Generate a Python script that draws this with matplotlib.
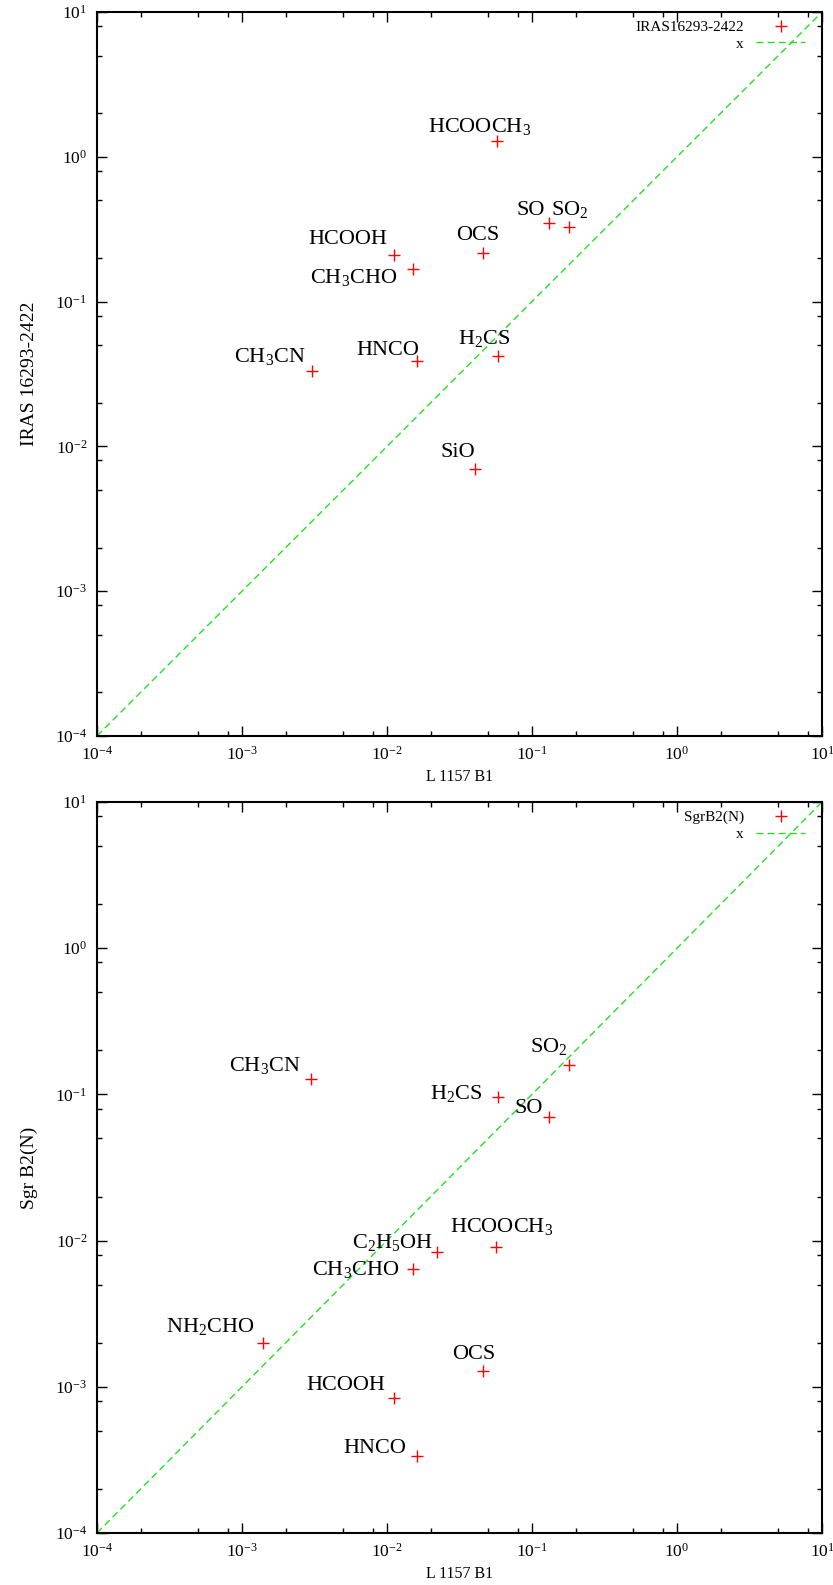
import matplotlib
matplotlib.use("Agg")
import matplotlib.pyplot as plt
from matplotlib.lines import Line2D
from matplotlib.ticker import LogLocator, LogFormatterMathtext, NullFormatter

plt.rcParams['font.family'] = ['Liberation Serif', 'DejaVu Serif']
plt.rcParams['mathtext.fontset'] = 'custom'
plt.rcParams['mathtext.rm'] = 'Liberation Serif'
plt.rcParams['mathtext.it'] = 'Liberation Serif:italic'
plt.rcParams['mathtext.bf'] = 'Liberation Serif:bold'

# ---------------- data ----------------
top_names = ['HCOOCH$_3$', 'SO', 'SO$_2$', 'OCS', 'HCOOH', 'CH$_3$CHO',
             'CH$_3$CN', 'HNCO', 'H$_2$CS', 'SiO']
top_x = [0.0571, 0.130, 0.180, 0.0461, 0.0111, 0.0150, 0.00302, 0.0161, 0.0582, 0.0403]
top_y = [1.29, 0.347, 0.327, 0.218, 0.209, 0.169, 0.0332, 0.039, 0.0423, 0.00698]

bot_names = ['CH$_3$CN', 'SO$_2$', 'H$_2$CS', 'SO', 'CH$_3$CHO', 'C$_2$H$_5$OH',
             'HCOOCH$_3$', 'NH$_2$CHO', 'HCOOH', 'OCS', 'HNCO']
bot_x = [0.00300, 0.181, 0.0586, 0.130, 0.0150, 0.0220, 0.0568, 0.00140, 0.0111, 0.0457, 0.0160]
bot_y = [0.128, 0.158, 0.0963, 0.0697, 0.00644, 0.0083, 0.0090, 0.00199, 0.00084, 0.00129, 0.000337]

top_legend = 'IRAS16293-2422'
bot_legend = 'SgrB2(N)'
xlabel = 'L 1157 B1'
top_ylabel = 'IRAS 16293-2422'
bot_ylabel = 'Sgr B2(N)'
diag = [1e-4, 1e1]

# label offsets (pixels, left-baseline of text relative to point)
top_off = [(-69, 9), (-32, 8), (-18, 12), (-27, 13), (-85, 11), (-103, -14),
           (-78, 9), (-61, 6), (-40, 12), (-34, 12)]
bot_off = [(-82, 8), (-39, 13), (-68, -2), (-34, 4), (-101, -6), (-85, 4),
           (-46, 15), (-97, 11), (-87, 8), (-31, 12), (-73, 3)]

W, H = 833, 1585
fig = plt.figure(figsize=(W / 100, H / 100), dpi=100)

green = '#22e022'

def panel(rect, xs, ys, names, offs, leg, ylab):
    ax = fig.add_axes(rect)
    ax.set_xscale('log')
    ax.set_yscale('log')
    ax.set_xlim(1e-4, 1e1)
    ax.set_ylim(1e-4, 1e1)
    ax.plot(diag, diag, linestyle=(0, (5, 3)), color=green, lw=1.0, zorder=2)
    ax.plot(xs, ys, linestyle='none', marker='+', color='red', ms=8, mew=1.0, zorder=3)
    for x, y, n, (dx, dy) in zip(xs, ys, names, offs):
        ax.annotate(n, xy=(x, y), xytext=(dx, dy), textcoords='offset pixels',
                    ha='left', va='baseline', fontsize=16, color='black')
    for axis in (ax.xaxis, ax.yaxis):
        axis.set_major_locator(LogLocator(base=10, numticks=10))
        axis.set_minor_locator(LogLocator(base=10, subs=(2.0, 5.0, 8.0), numticks=20))
        axis.set_major_formatter(LogFormatterMathtext())
        axis.set_minor_formatter(NullFormatter())
    ax.tick_params(which='both', direction='in', top=True, right=True, labelsize=12.5)
    ax.tick_params(which='major', length=7, width=1.0)
    ax.tick_params(which='minor', length=3.5, width=1.0)
    ax.tick_params(axis='x', pad=7)
    ax.tick_params(axis='y', pad=7)
    for s in ax.spines.values():
        s.set_linewidth(1.5)
    ax.set_xlabel(xlabel, fontsize=11.5, labelpad=4)
    ax.set_ylabel(ylab, fontsize=14, labelpad=12)
    handles = [Line2D([], [], linestyle='none', marker='+', color='red', ms=8, mew=1.0),
               Line2D([], [], linestyle=(0, (5, 3)), color=green, lw=1.0)]
    ax.legend(handles, [leg, 'x'], loc='upper right', bbox_to_anchor=(0.985, 0.997),
              frameon=False, markerfirst=False, fontsize=11, handlelength=3.2,
              borderaxespad=0, labelspacing=0.2, handletextpad=0.8)
    return ax

panel([97 / W, 1 - 736 / H, 725 / W, 724 / H], top_x, top_y, top_names, top_off,
      top_legend, top_ylabel)
panel([97 / W, 1 - 1533 / H, 725 / W, 731 / H], bot_x, bot_y, bot_names, bot_off,
      bot_legend, bot_ylabel)

fig.savefig('out.png', dpi=100)
